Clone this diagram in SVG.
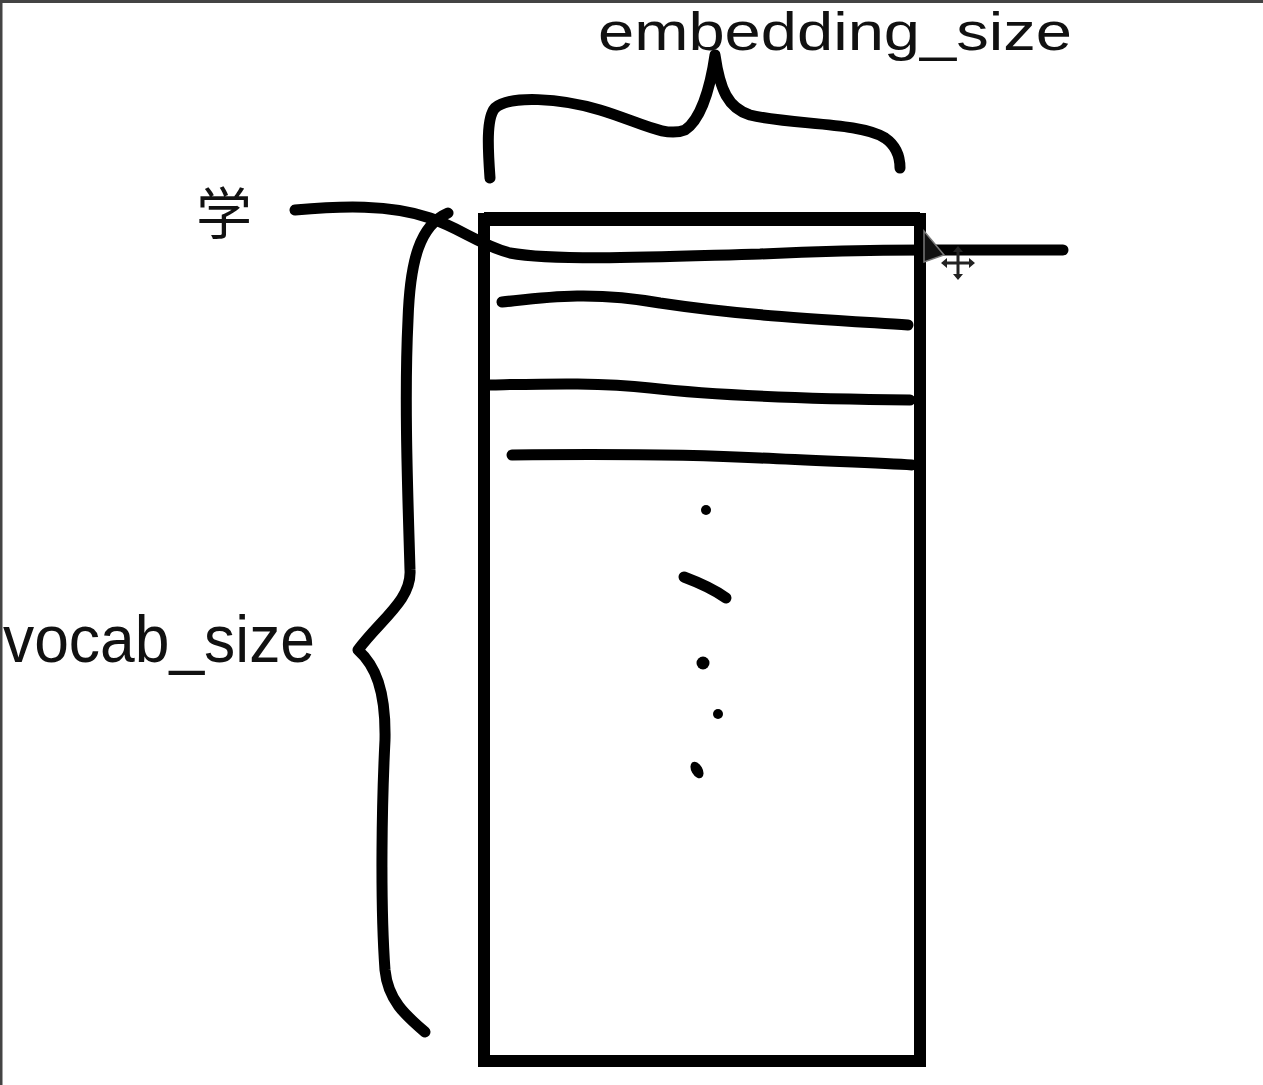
<svg xmlns="http://www.w3.org/2000/svg" width="1263" height="1085" viewBox="0 0 1263 1085">
<style>
.ink{fill:none;stroke:#000;stroke-width:11;stroke-linecap:round;stroke-linejoin:round}
.lbl{font-family:"Liberation Sans",Arial,sans-serif;fill:#111}
</style>
<rect x="0" y="0" width="1263" height="1085" fill="#fff"/>
<path d="M1,1085 V1.5 H1263" fill="none" stroke="#444" stroke-width="3"/>
<g id="matrix">
<path d="M484,1061 V219 H920 V1061 Z" fill="none" stroke="#000" stroke-width="12"/>
<path d="M484,219 H920" stroke="#000" stroke-width="14"/>
</g>
<g id="brace-top">
<path class="ink" d="M490,178 C488,150 486,118 495,108 C510,95 560,98 600,110 C640,122 665,138 685,130 C700,120 710,90 715,55 C720,90 728,108 750,115 C790,125 860,122 885,138 C898,147 900,160 900,168"/>
</g>
<g id="brace-left">
<path class="ink" d="M448,213 C420,225 410,260 408,320 C404,400 408,500 410,570 C412,600 380,620 358,650 C375,665 386,690 385,740 C382,800 380,900 385,970 C388,1000 405,1015 425,1032"/>
</g>
<g id="rows">
<path class="ink" d="M295,210 C340,206 390,204 430,218 C460,228 480,245 510,253 C560,262 680,256 760,254 C840,250 900,250 925,250 L1063,250"/>
<path class="ink" d="M502,302 C540,298 590,290 660,303 C740,315 800,318 908,325"/>
<path class="ink" d="M490,385 C540,384 600,382 650,388 C720,396 820,399 910,400"/>
<path class="ink" d="M512,455 C600,454 700,455 760,458 C820,461 880,463 912,465"/>
</g>
<g id="dots">
<circle cx="706" cy="510" r="5"/>
<path class="ink" d="M684,577 C700,583 715,590 726,598" stroke-width="12"/>
<circle cx="703" cy="663" r="6.5"/>
<circle cx="718" cy="714" r="5"/>
<ellipse cx="697" cy="770" rx="5.5" ry="9" transform="rotate(-30 697 770)"/>
</g>
<g id="cursor">
<path d="M924,231 L924,262 L944,255 Z" fill="#111" stroke="#777" stroke-width="1.5"/>
<path d="M958,249 V277 M944,263 H972" stroke="#222" stroke-width="3"/>
<path d="M958,246 l-5,6 h10 Z M958,280 l-5,-6 h10 Z M941,263 l6,-5 v10 Z M975,263 l-6,-5 v10 Z" fill="#222"/>
</g>
<g id="labels">
<text class="lbl" x="598" y="50" font-size="54" textLength="474" lengthAdjust="spacingAndGlyphs">embedding_size</text>
<text class="lbl" x="3" y="662" font-size="66" textLength="312" lengthAdjust="spacingAndGlyphs">vocab_size</text>
<text class="lbl" x="196" y="234" font-size="56" style="font-family:'Noto Sans CJK SC',sans-serif">学</text>
</g>
</svg>
